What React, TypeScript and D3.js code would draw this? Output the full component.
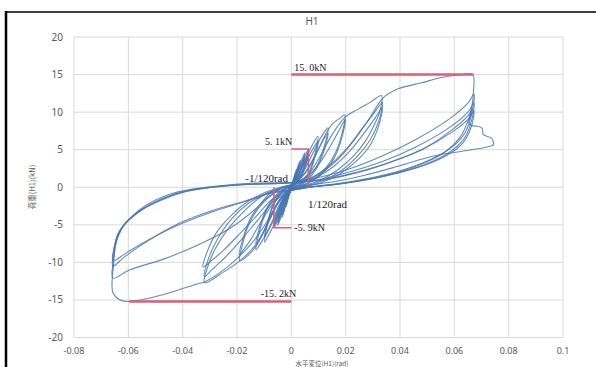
import React from "react";
import * as d3 from "d3";

type P = [number, number];

// ---- axis ticks ----
const xTicks = [-0.08, -0.06, -0.04, -0.02, 0, 0.02, 0.04, 0.06, 0.08, 0.1];
const xTickLabels = ["-0.08", "-0.06", "-0.04", "-0.02", "0", "0.02", "0.04", "0.06", "0.08", "0.1"];
const yTicks = [-20, -15, -10, -5, 0, 5, 10, 15, 20];
const yTickLabels = ["-20", "-15", "-10", "-5", "0", "5", "10", "15", "20"];

// ---- hysteresis cycles (displacement rad, load kN) ----
const cyclesTiny: P[][] = [
  [[0, 0], [0.0008, 1.1], [0.0019, 2.4], [0.0014, 1.5], [0.0005, 0.3], [-0.0006, -0.8], [-0.0019, -2.6], [-0.0013, -1.6], [-0.0004, -0.3], [0, 0]],
  [[0, 0], [0.0012, 1.5], [0.0033, 3.6], [0.0024, 2.2], [0.0008, 0.4], [-0.001, -1.1], [-0.0033, -4.0], [-0.0023, -2.4], [-0.0006, -0.4], [0, 0]],
  [[0, 0], [0.0013, 1.4], [0.0032, 3.3], [0.0023, 1.9], [0.0007, 0.3], [-0.0011, -1.0], [-0.0032, -3.7], [-0.0022, -2.1], [-0.0006, -0.3], [0, 0]],
];

const cycles150: P[][] = [
  [[0, 0], [0.0018, 1.8], [0.0035, 3.4], [0.005, 4.6], [0.0038, 2.8], [0.0018, 0.9], [0, -0.3], [-0.0018, -2.0], [-0.0035, -3.7], [-0.005, -5.1], [-0.0037, -3.0], [-0.0017, -0.9], [0, 0.2]],
  [[0, 0.2], [0.002, 1.7], [0.0036, 3.1], [0.0049, 4.2], [0.0036, 2.4], [0.0016, 0.7], [0, -0.3], [-0.0019, -1.9], [-0.0036, -3.5], [-0.0049, -4.7], [-0.0035, -2.7], [-0.0016, -0.7], [0, 0.2]],
  [[0, 0.2], [0.0022, 1.9], [0.0045, 3.7], [0.0063, 5.1], [0.005, 3.2], [0.003, 1.4], [0.001, 0.2], [-0.0012, -1.0], [-0.0035, -3.2], [-0.0064, -5.4], [-0.005, -3.7], [-0.003, -1.8], [-0.001, -0.4], [0, 0.1]],
  [[0, 0.1], [0.0024, 1.7], [0.0046, 3.4], [0.0064, 4.6], [0.005, 2.8], [0.003, 1.1], [0.001, 0.1], [-0.0014, -1.0], [-0.0038, -3.2], [-0.0064, -5.1], [-0.0049, -3.4], [-0.0028, -1.4], [-0.001, -0.2], [0, 0.1]],
  [[0, 0.1], [0.0025, 1.6], [0.0047, 3.2], [0.0064, 4.3], [0.0049, 2.5], [0.0029, 0.9], [0.001, 0], [-0.0015, -1.0], [-0.004, -3.1], [-0.0064, -4.8], [-0.0048, -3.1], [-0.0027, -1.2], [-0.001, -0.2], [0, 0.1]],
];

const cycles100: P[][] = [
  [[0, 0.1], [0.003, 1.9], [0.0063, 4.6], [0.0083, 6.0], [0.0098, 6.8], [0.0088, 4.6], [0.007, 2.4], [0.0045, 1.0], [0.002, 0.2], [0, -0.3], [-0.003, -2.0], [-0.0064, -5.0], [-0.0085, -6.5], [-0.0099, -7.3], [-0.0088, -5.0], [-0.0068, -2.6], [-0.0043, -1.0], [-0.0018, -0.2], [0, 0.2]],
  [[0, 0.2], [0.0035, 1.8], [0.0068, 4.4], [0.0088, 5.6], [0.0099, 6.2], [0.0087, 4.0], [0.0068, 2.0], [0.0043, 0.7], [0.0018, 0.1], [0, -0.3], [-0.0035, -1.9], [-0.0068, -4.6], [-0.0088, -6.0], [-0.0099, -6.7], [-0.0086, -4.4], [-0.0066, -2.2], [-0.004, -0.8], [-0.0016, -0.1], [0, 0.2]],
];

const cycles75: P[][] = [
  [[0, 0.2], [0.004, 1.8], [0.008, 4.6], [0.011, 6.7], [0.0135, 7.9], [0.012, 5.3], [0.0095, 2.9], [0.006, 1.2], [0.003, 0.3], [0, -0.3], [-0.004, -2.1], [-0.0075, -4.9], [-0.0105, -7.0], [-0.013, -8.3], [-0.0115, -5.6], [-0.009, -3.0], [-0.0055, -1.2], [-0.0025, -0.2], [0, 0.3]],
  [[0, 0.3], [0.0045, 1.7], [0.0088, 4.3], [0.0118, 6.3], [0.0135, 7.2], [0.0119, 4.7], [0.0093, 2.5], [0.0058, 0.9], [0.0028, 0.1], [0, -0.3], [-0.0045, -2.0], [-0.0083, -4.6], [-0.011, -6.5], [-0.013, -7.5], [-0.0114, -5.0], [-0.0088, -2.6], [-0.0052, -0.9], [-0.0022, -0.1], [0, 0.3]],
];

const cycles50: P[][] = [
  [[0, 0.3], [0.005, 1.8], [0.009, 4.3], [0.0125, 7.0], [0.015, 8.4], [0.0175, 9.1], [0.0197, 9.6], [0.0187, 7.2], [0.0165, 4.8], [0.0128, 2.6], [0.0085, 1.1], [0.004, 0.2], [0, -0.4], [-0.005, -2.0], [-0.009, -5.0], [-0.0125, -7.6], [-0.016, -9.1], [-0.019, -9.8], [-0.0178, -7.4], [-0.0152, -4.6], [-0.011, -2.3], [-0.006, -0.7], [-0.002, 0.1], [0, 0.3]],
  [[0, 0.3], [0.006, 1.5], [0.011, 3.5], [0.0155, 6.2], [0.0182, 8.0], [0.0198, 9.0], [0.0186, 6.6], [0.0162, 4.2], [0.0122, 2.1], [0.0075, 0.8], [0.003, 0.1], [0, -0.4], [-0.006, -1.9], [-0.011, -4.5], [-0.015, -7.0], [-0.0178, -8.4], [-0.0192, -9.0], [-0.0178, -6.8], [-0.015, -4.1], [-0.0105, -1.9], [-0.0055, -0.5], [-0.0015, 0.2], [0, 0.3]],
];

const cycles30: P[][] = [
  [[0, 0.3], [0.006, 1.6], [0.011, 4.4], [0.015, 7.0], [0.0197, 9.3], [0.0246, 10.4], [0.029, 11.3], [0.0332, 12.2], [0.0325, 10.0], [0.0305, 8.3], [0.027, 6.0], [0.0225, 4.0], [0.017, 2.3], [0.011, 1.0], [0.005, 0.2], [0, -0.3],
   [-0.004, -1.5], [-0.0085, -4.6], [-0.013, -7.6], [-0.019, -9.8], [-0.025, -11.3], [-0.032, -12.7], [-0.0305, -10.3], [-0.0277, -8.0], [-0.023, -5.4], [-0.0166, -2.9], [-0.0104, -1.1], [-0.004, -0.1], [0, 0.3]],
  [[0, 0.3], [0.008, 1.4], [0.015, 3.2], [0.021, 5.4], [0.026, 7.8], [0.0305, 9.9], [0.0335, 11.3], [0.0322, 8.8], [0.029, 6.3], [0.024, 4.0], [0.018, 2.1], [0.011, 0.8], [0.005, 0.1], [0, -0.3],
   [-0.006, -1.7], [-0.012, -4.2], [-0.018, -6.8], [-0.024, -9.2], [-0.029, -10.9], [-0.032, -11.9], [-0.0305, -9.5], [-0.027, -6.8], [-0.022, -4.2], [-0.016, -2.2], [-0.009, -0.8], [-0.003, 0], [0, 0.3]],
  [[0, 0.3], [0.009, 1.3], [0.016, 2.9], [0.022, 5.0], [0.027, 7.3], [0.031, 9.3], [0.0335, 10.6], [0.032, 8.0], [0.029, 5.6], [0.024, 3.5], [0.018, 1.8], [0.011, 0.6], [0.004, 0], [0, -0.3],
   [-0.007, -1.6], [-0.013, -3.9], [-0.019, -6.2], [-0.025, -8.4], [-0.0295, -9.8], [-0.0325, -10.6], [-0.031, -8.6], [-0.0275, -6.0], [-0.022, -3.7], [-0.016, -1.9], [-0.009, -0.6], [-0.003, 0.1], [0, 0.3]],
];

const cycles15: P[][] = [
  [[0, 0.3], [0.008, 1.3], [0.016, 3.3], [0.023, 6.2], [0.029, 9.3], [0.0338, 11.9], [0.0393, 13.1], [0.0479, 13.9], [0.0553, 14.6], [0.0633, 15.0], [0.0668, 15.0], [0.067, 12.6],
   [0.0664, 10.6], [0.0648, 8.6], [0.062, 6.6], [0.057, 4.8], [0.05, 3.4], [0.041, 2.2], [0.031, 1.3], [0.02, 0.6], [0.009, 0.1], [0, -0.3],
   [-0.004, -1.6], [-0.009, -4.6], [-0.014, -7.2], [-0.02, -9.5], [-0.026, -11.3], [-0.032, -12.6], [-0.035, -12.9], [-0.0473, -14.3], [-0.0597, -15.2], [-0.063, -15.0], [-0.0657, -14.0],
   [-0.0655, -10.5], [-0.0645, -7.4], [-0.0625, -5.6], [-0.0595, -4.2], [-0.0535, -2.4], [-0.0436, -0.8], [-0.0313, 0], [-0.0166, 0.5], [-0.0067, 0.6], [0, 0.6]],
  [[0, 0.6], [0.01, 1.3], [0.021, 2.4], [0.033, 4.1], [0.0455, 6.3], [0.0578, 9.0], [0.065, 11.2], [0.0672, 12.4],
   [0.0665, 10.0], [0.064, 7.3], [0.059, 5.3], [0.05, 3.5], [0.04, 2.2], [0.03, 1.3], [0.019, 0.6], [0.008, 0.1], [0, -0.4],
   [-0.0067, -0.5], [-0.0129, -2.8], [-0.0227, -5.5], [-0.035, -7.8], [-0.0473, -9.6], [-0.0596, -11.0], [-0.0657, -12.1],
   [-0.0655, -9.8], [-0.0643, -7.0], [-0.062, -5.2], [-0.058, -3.8], [-0.052, -2.3], [-0.043, -0.9], [-0.031, -0.1], [-0.017, 0.4], [-0.006, 0.5], [0, 0.6]],
  [[0, 0.6], [0.011, 1.1], [0.022, 2.1], [0.034, 3.5], [0.046, 5.4], [0.058, 7.9], [0.065, 10.0], [0.0672, 11.2],
   [0.0663, 8.8], [0.0635, 6.4], [0.058, 4.6], [0.049, 3.0], [0.039, 1.9], [0.028, 1.0], [0.017, 0.4], [0.007, 0], [0, -0.4],
   [-0.0067, -0.7], [-0.0166, -1.8], [-0.029, -3.1], [-0.0413, -4.8], [-0.0535, -7.3], [-0.0615, -9.3], [-0.0657, -10.5],
   [-0.0654, -8.6], [-0.064, -6.4], [-0.061, -4.7], [-0.056, -3.2], [-0.049, -1.8], [-0.04, -0.6], [-0.028, 0.1], [-0.015, 0.4], [-0.005, 0.5], [0, 0.6]],
  [[0, 0.6], [0.012, 1.0], [0.024, 2.0], [0.036, 3.3], [0.048, 5.0], [0.059, 7.3], [0.0655, 9.2], [0.0672, 10.2],
   [0.0662, 8.0], [0.063, 5.8], [0.057, 4.2], [0.048, 2.8], [0.037, 1.7], [0.026, 0.9], [0.015, 0.3], [0.006, 0], [0, -0.4],
   [-0.008, -0.8], [-0.018, -2.0], [-0.03, -3.4], [-0.042, -5.1], [-0.053, -7.1], [-0.061, -8.8], [-0.0657, -9.8],
   [-0.0652, -8.0], [-0.0635, -6.0], [-0.06, -4.4], [-0.055, -3.0], [-0.047, -1.6], [-0.038, -0.5], [-0.026, 0.1], [-0.013, 0.4], [-0.004, 0.5], [0, 0.6]],
];

const finalPush: P[] = [
  [0, 0.6], [0.012, 1.0], [0.025, 2.0], [0.037, 3.4], [0.049, 5.2], [0.059, 7.6], [0.0652, 9.6], [0.0665, 10.4], [0.0655, 8.4],
  [0.0701, 7.9], [0.0707, 7.0], [0.0737, 6.5], [0.0744, 5.65], [0.0725, 5.4],
  [0.0612, 4.7], [0.0516, 4.1], [0.0393, 2.8], [0.027, 1.6], [0.015, 0.7], [0.004, 0.2],
];

// ---- annotation values ----
const peakPos = 15.0;
const peakPosDisp = 0.067;
const peakNeg = -15.2;
const peakNegDisp = -0.0597;
const yieldPos = 5.1;
const yieldNegDrawn = -5.4;
const dispPos = 0.0063;
const dispNeg = -0.0064;

export default function App() {
  const W = 596;
  const H = 367;
  const x = d3.scaleLinear().domain([-0.08, 0.1]).range([74, 563]);
  const y = d3.scaleLinear().domain([-20, 20]).range([337.5, 37]);
  const line = d3
    .line<P>()
    .x((d) => x(d[0]))
    .y((d) => y(d[1]))
    .curve(d3.curveCatmullRom.alpha(0.5));

  const allCycles: P[][] = [
    ...cyclesTiny,
    ...cycles150,
    ...cycles100,
    ...cycles75,
    ...cycles50,
    ...cycles30,
    ...cycles15,
    finalPush,
  ];

  const red = "#de5d74";
  const tickFont = "'Noto Sans', 'DejaVu Sans', sans-serif";
  const serif = "'Liberation Serif', 'DejaVu Serif', serif";

  return (
    <svg
      width={W}
      height={H}
      style={{ position: "absolute", left: 0, top: 0, background: "#fff" }}
    >
      {/* frame */}
      <line x1={6} y1={12} x2={596} y2={12} stroke="#000" strokeWidth={1.5} />
      <line x1={6} y1={11} x2={6} y2={367} stroke="#000" strokeWidth={2.5} />

      {/* grid */}
      {xTicks.map((t) => (
        <line key={"gx" + t} x1={x(t)} x2={x(t)} y1={y(20)} y2={y(-20)} stroke="#d9d9d9" strokeWidth={1} />
      ))}
      {yTicks.map((t) => (
        <line key={"gy" + t} x1={x(-0.08)} x2={x(0.1)} y1={y(t)} y2={y(t)} stroke="#d9d9d9" strokeWidth={1} />
      ))}

      {/* tick labels */}
      {xTicks.map((t, i) => (
        <text key={"tx" + t} x={x(t)} y={354} textAnchor="middle" fontSize={9} fill="#595959" fontFamily={tickFont}>
          {xTickLabels[i]}
        </text>
      ))}
      {yTicks.map((t, i) => (
        <text key={"ty" + t} x={63} y={y(t) + 3.5} textAnchor="end" fontSize={10} fill="#595959" fontFamily={tickFont}>
          {yTickLabels[i]}
        </text>
      ))}

      {/* title & axis titles */}
      <text x={312} y={25} textAnchor="middle" fontSize={10} fill="#595959" fontFamily={tickFont}>
        H1
      </text>
      <text
        transform={`translate(35,187) rotate(-90)`}
        textAnchor="middle"
        fontSize={7.5}
        fill="#595959"
        fontFamily="'Noto Sans CJK JP', sans-serif"
      >
        荷重(H1)(kN)
      </text>
      <text x={322} y={365.5} textAnchor="middle" fontSize={6.5} fill="#595959" fontFamily="'Noto Sans CJK JP', sans-serif">
        水平変位(H1)(rad)
      </text>

      {/* hysteresis */}
      <g fill="none" stroke="#4677b3" strokeWidth={1.1} strokeOpacity={0.85}>
        {allCycles.map((c, i) => (
          <path key={"c" + i} d={line(c) || ""} />
        ))}
      </g>

      {/* red annotations */}
      <g stroke={red} fill="none">
        <line x1={x(0)} x2={x(peakPosDisp)} y1={y(peakPos)} y2={y(peakPos)} strokeWidth={2.5} />
        <line x1={x(peakNegDisp)} x2={x(0)} y1={y(peakNeg)} y2={y(peakNeg)} strokeWidth={2.5} />
        <polyline
          points={`${x(0)},${y(yieldPos)} ${x(dispPos)},${y(yieldPos)} ${x(dispPos)},${y(0.3)}`}
          strokeWidth={1.6}
        />
        <polyline
          points={`${x(dispNeg)},${y(0)} ${x(dispNeg)},${y(yieldNegDrawn)} ${x(0)},${y(yieldNegDrawn)}`}
          strokeWidth={1.6}
        />
      </g>

      <g fontFamily={serif} fontSize={10} fill="#222">
        <text x={x(0) + 3} y={y(peakPos) - 4}>15. 0kN</text>
        <text x={x(0) + 1} y={y(yieldPos) - 4} textAnchor="end">5. 1kN</text>
        <text x={x(0) + 3} y={y(yieldNegDrawn) + 3.5}>-5. 9kN</text>
        <text x={x(0) + 5} y={y(peakNeg) - 4} textAnchor="end">-15. 2kN</text>
        <text x={288} y={182} textAnchor="end" fontSize={11}>-1/120rad</text>
        <text x={308} y={208} fontSize={11}>1/120rad</text>
      </g>
    </svg>
  );
}
